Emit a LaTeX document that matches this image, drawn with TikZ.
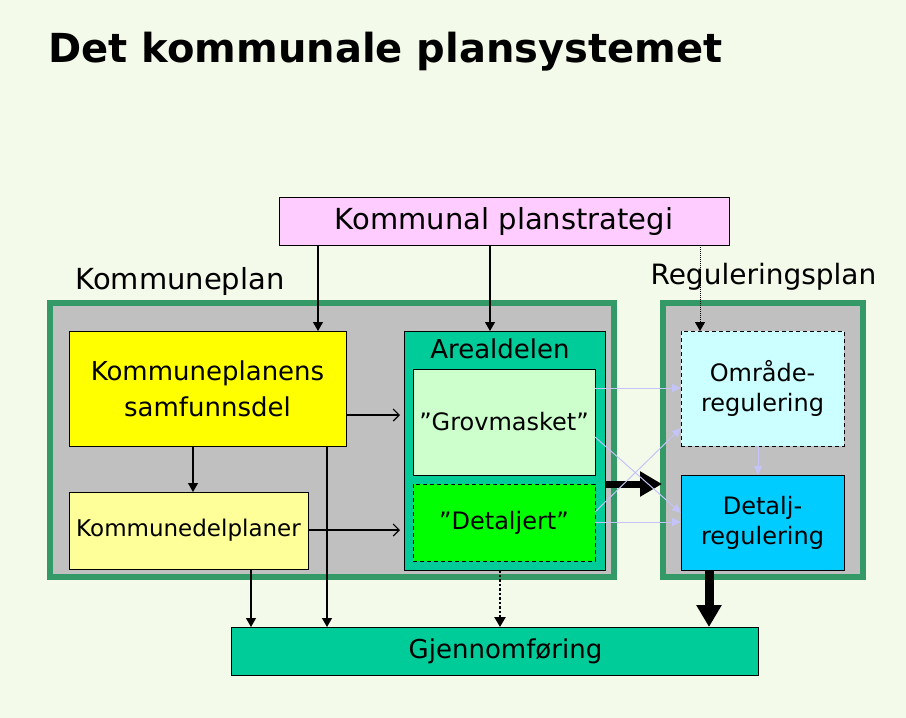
\documentclass[tikz,border=0pt]{standalone}
\usepackage{fontspec}
\setmainfont{DejaVu Sans}
\usetikzlibrary{arrows.meta,calc}
\definecolor{bgc}{HTML}{F4FAEA}
\definecolor{frame}{HTML}{339966}
\definecolor{panel}{HTML}{C0C0C0}
\definecolor{pinkc}{HTML}{FFCCFF}
\definecolor{yel}{HTML}{FFFF00}
\definecolor{lyel}{HTML}{FFFF99}
\definecolor{teal}{HTML}{00CC99}
\definecolor{lgreen}{HTML}{CCFFCC}
\definecolor{bgreen}{HTML}{00FF00}
\definecolor{lcyan}{HTML}{CCFFFF}
\definecolor{sky}{HTML}{00CCFF}
\definecolor{lav}{HTML}{C4C4F8}
\begin{document}
\begin{tikzpicture}[x=1pt,y=-1pt,
  box/.style={draw=black, line width=1pt, inner sep=0pt, outer sep=0pt, anchor=north west, align=center},
  panelbox/.style={draw=frame, line width=6pt, fill=panel, inner sep=0pt, outer sep=0pt, anchor=north west},
  dashbox/.style={dash pattern=on 4pt off 3pt},
  arr/.style={line width=1.1pt, -{Triangle[length=9pt,width=10pt]}},
  oarr/.style={line width=1.1pt, -{Straight Barb[length=6pt,width=12pt]}},
  lavarr/.style={draw=lav, line width=1pt, -{Triangle[length=9pt,width=8pt]}},
  fatarr/.style={line width=7pt, -{Triangle[length=22pt,width=24pt]}},
  f26/.style={font=\fontsize{26}{36}\selectfont},
  f24/.style={font=\fontsize{24}{30}\selectfont},
]
\fill[bgc] (0,0) rectangle (906,718);
\useasboundingbox (0,0) rectangle (906,718);

\node[anchor=base west, font=\fontsize{40}{48}\selectfont\bfseries] (title) at (45,62) {Det kommunale plansystemet};

\node[box, fill=pinkc, minimum width=450pt, minimum height=48pt, font=\fontsize{29}{34}\selectfont] (ps) at (279,197) {Kommunal planstrategi};

\node[anchor=base west, font=\fontsize{29}{34}\selectfont] (kplbl) at (72,289) {Kommuneplan};
\node[anchor=base west, font=\fontsize{28}{34}\selectfont] (rplbl) at (647,284) {Reguleringsplan};

\node[panelbox, minimum width=564pt, minimum height=274pt] (kpo) at (50,303) {};
\node[panelbox, minimum width=200pt, minimum height=274pt] (rpo) at (663,303) {};

\node[box, fill=yel, minimum width=277pt, minimum height=115pt, f26] (samf) at (69,331) {Kommuneplanens\\samfunnsdel};
\node[box, fill=lyel, minimum width=239pt, minimum height=77pt, font=\fontsize{23}{28}\selectfont] (kdp) at (69,492) {Kommunedelplaner};

\node[box, fill=teal, minimum width=201pt, minimum height=239pt] (areal) at (404,331) {};
\node[anchor=base, f26] (areallbl) at (500,358) {Arealdelen};
\node[box, fill=lgreen, minimum width=182pt, minimum height=106pt, f24] (grov) at (413,369) {”Grovmasket”};
\node[box, dashbox, fill=bgreen, minimum width=182pt, minimum height=77pt, f24] (detj) at (413,484) {”Detaljert”};

\node[box, dashbox, fill=lcyan, minimum width=163pt, minimum height=115pt, f24] (omr) at (681,331) {Område-\\regulering};
\node[box, fill=sky, minimum width=163pt, minimum height=95pt, f24] (det) at (681,475) {Detalj-\\regulering};

\node[box, fill=teal, minimum width=527pt, minimum height=48pt, f26] (gj) at (231,627) {\hspace*{22pt}Gjennomføring};

% arrows from planstrategi
\draw[arr] ($(ps.south west)+(39,0)$) -- ($(samf.north west)+(249,0)$);
\draw[arr] ($(ps.south west)+(211,0)$) -- ($(areal.north west)+(86,0)$);
\draw[line width=1pt, densely dotted, -{Triangle[length=9pt,width=10pt]}] ($(ps.south west)+(421,0)$) -- ($(omr.north west)+(19,0)$);

% inside Kommuneplan
\draw[oarr] ($(samf.north east)+(0,84)$) -- ($(areal.north west)+(-4,84)$);
\draw[arr] ($(samf.south west)+(124,0)$) -- ($(kdp.north west)+(124,0)$);
\draw[oarr] ($(kdp.north east)+(0,38)$) -- ($(areal.north west)+(-4,199)$);

% to Gjennomfoering
\draw[arr] ($(samf.south west)+(258,0)$) -- ($(gj.north west)+(96,0)$);
\draw[arr] ($(kdp.south west)+(182,0)$) -- ($(gj.north west)+(20,0)$);
\draw[line width=2.5pt, dash pattern=on 2.5pt off 2pt, -{Triangle[length=10pt,width=11pt]}] ($(areal.south west)+(96,0)$) -- ($(gj.north west)+(269,0)$);
\draw[fatarr, line width=9pt] ($(det.south west)+(28,0)$) -- ($(gj.north west)+(478,0)$);

% thick horizontal
\draw[fatarr] ($(areal.north east)+(0,153)$) -- ($(rpo.north west)+(-1,181)$);

% lavender connections
\draw[lavarr] ($(grov.north east)+(0,19)$) -- ($(omr.north west)+(0,57)$);
\draw[lavarr] ($(grov.north east)+(0,68)$) -- ($(det.north west)+(0,38)$);
\draw[lavarr] ($(detj.north east)+(0,28)$) -- ($(omr.north west)+(0,97)$);
\draw[lavarr] ($(detj.north east)+(0,38)$) -- ($(det.north west)+(0,47)$);
\draw[lavarr] ($(omr.south west)+(77,0)$) -- ($(det.north west)+(77,0)$);
\end{tikzpicture}
\end{document}
